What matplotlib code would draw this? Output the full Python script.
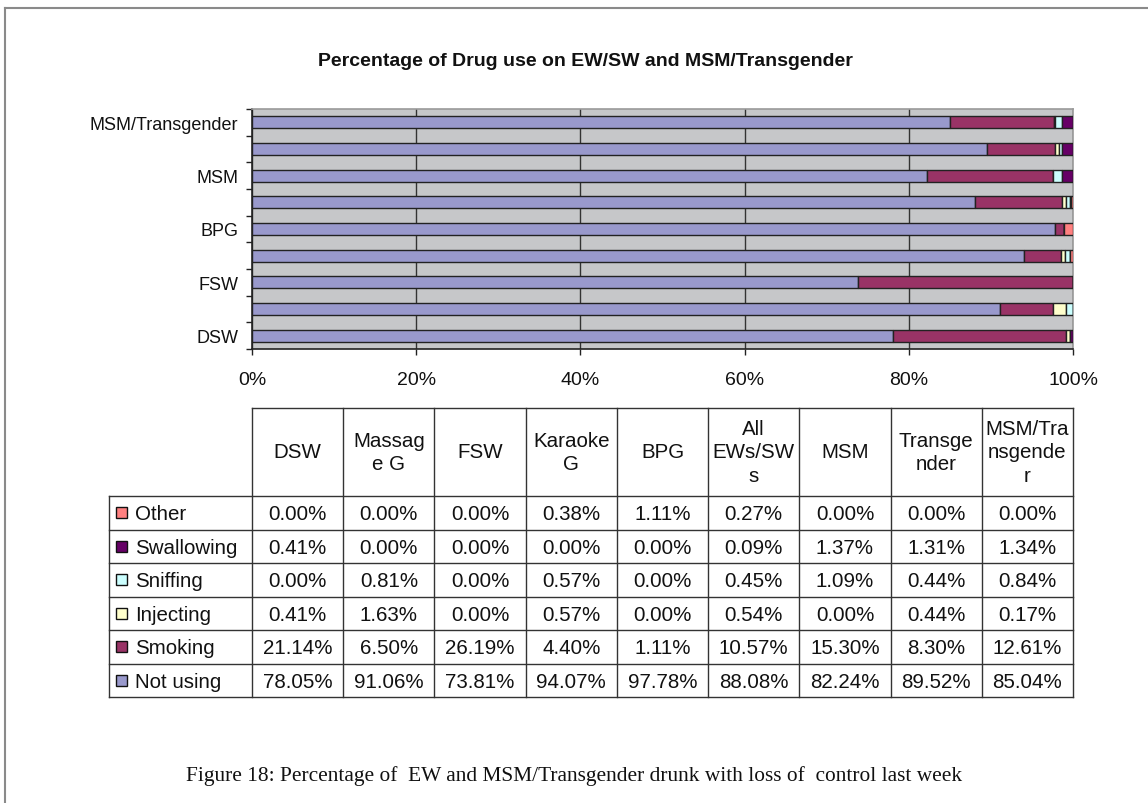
import matplotlib
matplotlib.use("Agg")
import matplotlib.pyplot as plt
from matplotlib.patches import Rectangle
from matplotlib.ticker import FuncFormatter, FixedLocator
import numpy as np

plt.rcParams['font.family'] = ['Liberation Sans', 'DejaVu Sans']

# ---------------- data ----------------
categories = ['DSW', 'Massage G', 'FSW', 'Karaoke G', 'BPG', 'All EWs/SWs',
              'MSM', 'Transgender', 'MSM/Transgender']
header_labels = ['DSW', 'Massag\ne G', 'FSW', 'Karaoke\nG', 'BPG',
                 'All\nEWs/SW\ns', 'MSM', 'Transge\nnder', 'MSM/Tra\nnsgende\nr']
not_using = [78.05, 91.06, 73.81, 94.07, 97.78, 88.08, 82.24, 89.52, 85.04]
smoking = [21.14, 6.50, 26.19, 4.40, 1.11, 10.57, 15.30, 8.30, 12.61]
injecting = [0.41, 1.63, 0.00, 0.57, 0.00, 0.54, 0.00, 0.44, 0.17]
sniffing = [0.00, 0.81, 0.00, 0.57, 0.00, 0.45, 1.09, 0.44, 0.84]
swallowing = [0.41, 0.00, 0.00, 0.00, 0.00, 0.09, 1.37, 1.31, 1.34]
other = [0.00, 0.00, 0.00, 0.38, 1.11, 0.27, 0.00, 0.00, 0.00]

series_names = ['Not using', 'Smoking', 'Injecting', 'Sniffing', 'Swallowing', 'Other']
series_values = [not_using, smoking, injecting, sniffing, swallowing, other]
series_colors = ['#9999CC', '#993366', '#FFFFCC', '#CCFFFF', '#660066', '#FF8080']
x_ticks = [0, 20, 40, 60, 80, 100]
y_label_idx = [0, 2, 4, 6, 8]

title = 'Percentage of Drug use on EW/SW and MSM/Transgender'
caption = 'Figure 18: Percentage of  EW and MSM/Transgender drunk with loss of  control last week'

W, H = 1148, 804
fig = plt.figure(figsize=(W / 100, H / 100), dpi=100)
fig.patch.set_facecolor('white')

# overlay axes in pixel coordinates for frame, table and caption
ov = fig.add_axes([0, 0, 1, 1])
ov.set_xlim(0, W)
ov.set_ylim(H, 0)
ov.axis('off')
ov.patch.set_alpha(0)

# outer frame (left and top visible)
ov.plot([5, 5], [9, H], color='#8a8a8a', lw=1.5)
ov.plot([5, W], [9, 9], color='#8a8a8a', lw=1.5)

# title
ov.text(585, 62, title, ha='center', va='center', fontsize=14, fontweight='bold',
        color='#111111')

# ---------------- bar chart ----------------
px_l, px_r, px_t, px_b = 252, 1073, 110, 350
ax = fig.add_axes([px_l / W, 1 - px_b / H, (px_r - px_l) / W, (px_b - px_t) / H])
ax.set_facecolor('#C6C7C9')

totals = np.sum(np.array(series_values), axis=0)
y = np.arange(len(categories))
left = np.zeros(len(categories))
for name, vals, col in zip(series_names, series_values, series_colors):
    v = np.array(vals) / totals * 100
    ax.barh(y, v, left=left, height=0.44, color=col, edgecolor='#222222',
            linewidth=1.0, zorder=3)
    left += v

ax.set_xlim(0, 100)
ax.set_ylim(-0.5, len(categories) - 0.5)
ax.xaxis.set_major_locator(FixedLocator(x_ticks))
ax.xaxis.set_major_formatter(FuncFormatter(lambda v, p: f'{int(v)}%'))
ax.tick_params(axis='x', labelsize=14, length=4, width=1, color='#222222',
               pad=12, labelcolor='#111111')
ax.grid(axis='x', color='#333333', linewidth=1.0, zorder=1)

ax.yaxis.set_major_locator(FixedLocator(y_label_idx))
ax.set_yticklabels([categories[i] for i in y_label_idx])
ax.yaxis.set_minor_locator(FixedLocator(np.arange(-0.5, len(categories), 1.0)))
ax.tick_params(axis='y', which='major', length=0, labelsize=13, pad=10,
               labelcolor='#111111')
ax.tick_params(axis='y', which='minor', length=4, width=1, color='#222222')

ax.spines['left'].set_color('#222222')
ax.spines['bottom'].set_color('#222222')
ax.spines['top'].set_color('#9a9a9a')
ax.spines['right'].set_color('#9a9a9a')
for s in ax.spines.values():
    s.set_linewidth(1.2)

# ---------------- data table ----------------
tbl_left = 109
col_edges = np.linspace(252, 1073, len(categories) + 1)
hdr_top, hdr_bot = 409, 497
row_edges = np.linspace(hdr_bot, 698, len(series_names) + 1)
lc = '#333333'
lw = 1.0
tfs = 14.8

ov.plot([col_edges[0], col_edges[-1]], [hdr_top, hdr_top], color=lc, lw=lw)
for xe in col_edges:
    ov.plot([xe, xe], [hdr_top, row_edges[-1]], color=lc, lw=lw)
ov.plot([tbl_left, tbl_left], [hdr_bot, row_edges[-1]], color=lc, lw=lw)
for ye in row_edges:
    ov.plot([tbl_left, col_edges[-1]], [ye, ye], color=lc, lw=lw)

for j, lab in enumerate(header_labels):
    xc = (col_edges[j] + col_edges[j + 1]) / 2
    ov.text(xc, (hdr_top + hdr_bot) / 2, lab, ha='center', va='center',
            fontsize=tfs, color='#111111', linespacing=1.3)

# rows in reverse stacking order
row_order = list(range(len(series_names)))[::-1]
for r, si in enumerate(row_order):
    yc = (row_edges[r] + row_edges[r + 1]) / 2
    ov.add_patch(Rectangle((116, yc - 5.5), 11, 11, facecolor=series_colors[si],
                           edgecolor='#111111', lw=1.0))
    ov.text(135, yc + 1, series_names[si], ha='left', va='center', fontsize=tfs,
            color='#111111')
    for j in range(len(categories)):
        xc = (col_edges[j] + col_edges[j + 1]) / 2
        ov.text(xc, yc + 1, f'{series_values[si][j]:.2f}%', ha='center',
                va='center', fontsize=tfs, color='#111111')

# caption
ov.text(574, 776, caption, ha='center', va='center', fontsize=15.4,
        family=['Liberation Serif', 'DejaVu Serif'], color='#111111')

fig.savefig('out.png', dpi=100)
